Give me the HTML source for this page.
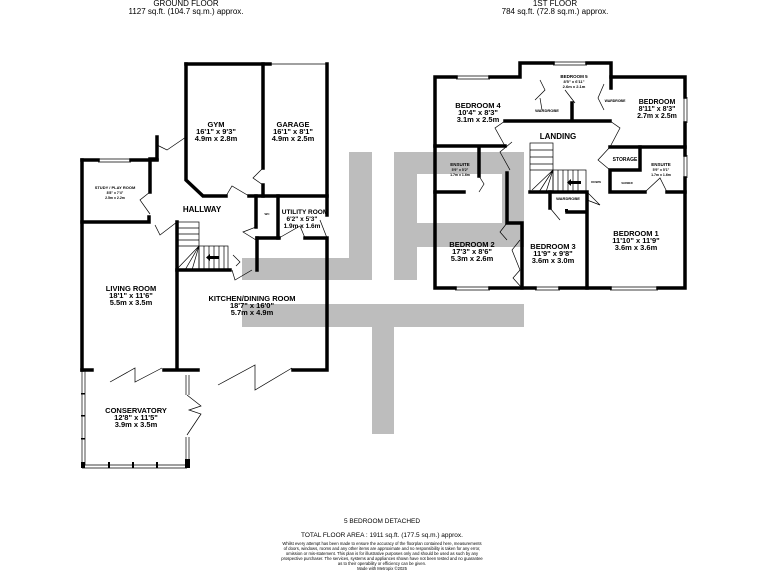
<!DOCTYPE html>
<html><head><meta charset="utf-8"><style>
html,body{margin:0;padding:0;background:#fff;}
svg{display:block;}
text{font-family:"Liberation Sans",sans-serif;fill:#000;text-anchor:middle;}
.b{font-weight:bold;}
</style></head><body>
<svg width="768" height="576" viewBox="0 0 768 576" xmlns="http://www.w3.org/2000/svg">
<!-- watermark -->
<g fill="#bdbdbd">
<rect x="349" y="152" width="23" height="128"/>
<rect x="242" y="258" width="130" height="22"/>
<rect x="394" y="152" width="23" height="128"/>
<rect x="394" y="152" width="130" height="22"/>
<rect x="502" y="152" width="22" height="95"/>
<rect x="394" y="223" width="130" height="24"/>
<rect x="242" y="304" width="282" height="23"/>
<rect x="372" y="304" width="22" height="130"/>
</g>

<!-- headers -->
<text x="186" y="6" font-size="8">GROUND FLOOR</text>
<text x="186" y="14" font-size="8">1127 sq.ft. (104.7 sq.m.) approx.</text>
<text x="555" y="6" font-size="8">1ST FLOOR</text>
<text x="555" y="14" font-size="8">784 sq.ft. (72.8 sq.m.) approx.</text>

<!-- GROUND FLOOR walls -->
<g stroke="#000" stroke-width="3.5" fill="none" stroke-linecap="square">
<path d="M186 64 H270"/>
<path d="M327 64 V215"/>
<path d="M186 64 V180 L203 196 H226"/>
<path d="M249 196 H327"/>
<path d="M263 64 V168 M263 185 V196"/>
<path d="M157 137 V159 H150 V192"/>
<path d="M149 217 V222 H82"/>
<path d="M82 160 H98 M131 160 H157"/>
<path d="M82 160 V370"/>
<path d="M177 222 V368"/>
<path d="M82 370 H92 M164 370 H184 M187 370 H198"/>
<path d="M177 270 H230"/>
<path d="M257 238 V270"/>
<path d="M257 238 H279 M305 238 H327 V370 H293"/>
<path d="M256 196 V227 M278 196 V238"/>
</g>
<g stroke="#000" stroke-width="0.7" fill="none">
<path d="M270 64 H326"/>
<path d="M98 159 H131 M98 162 H131"/>
<!-- stairs -->
<rect x="178" y="222" width="21" height="48"/>
<path d="M178 228 H199 M178 234 H199 M178 240 H199 M178 246 H199"/>
<rect x="199" y="246" width="29" height="24"/>
<path d="M204 246 V270 M209 246 V270 M214 246 V270 M219 246 V270 M224 246 V270"/>
<path d="M199 246 L178 268 M199 246 L185 270 M199 246 L192 270"/>
<!-- doors -->
<path d="M157 145 L167 150 L186 137"/>
<path d="M150 192 L140 200 L150 214"/>
<path d="M155 225 L160 235 L177 222"/>
<path d="M226 196 L232 186 L249 196"/>
<path d="M263 168 L253 178 L263 185"/>
<path d="M256 227 L243 232 L256 240"/>
<path d="M279 238 L300 226 L305 238"/>
<path d="M320 220 L327 238"/>
<path d="M232 270 L235 280 L252 270"/>
<path d="M233 255 L240 262 L236 266"/>
<!-- bifold doors -->
<path d="M110 382 L135 368 V382 L162 368"/>
<path d="M218 385 L255 365 V390 L292 368"/>
<path d="M187 395 L201 406 L189 410 L201 414 L187 435"/>
<!-- conservatory windows -->
<path d="M82 370 V465 M85 370 V465 M82 465 H187 M82 468 H187 M186 375 V395 M189 375 V395 M186 437 V466 M189 437 V466"/>
</g>
<g fill="#000">
<rect x="209" y="256" width="10" height="3"/>
<polygon points="206,257.5 210,254 210,261"/>
<rect x="81" y="393" width="4" height="1.5"/>
<rect x="81" y="415" width="4" height="1.5"/>
<rect x="81" y="438" width="4" height="1.5"/>
<rect x="81" y="462" width="4" height="6"/>
<rect x="108" y="462" width="2" height="6"/>
<rect x="132" y="462" width="2" height="6"/>
<rect x="156" y="462" width="2" height="6"/>
<rect x="185" y="459" width="5" height="9"/>
</g>

<!-- GROUND labels -->
<g class="b">
<text x="216" y="127" font-size="7.5">GYM</text>
<text x="216" y="134" font-size="7.5">16'1" x 9'3"</text>
<text x="216" y="141" font-size="7.5">4.9m x 2.8m</text>
<text x="293" y="127" font-size="7.5">GARAGE</text>
<text x="293" y="134" font-size="7.5">16'1" x 8'1"</text>
<text x="293" y="141" font-size="7.5">4.9m x 2.5m</text>
<text x="115" y="189" font-size="4">STUDY / PLAY ROOM</text>
<text x="115" y="194" font-size="3.5">8'8" x 7'4"</text>
<text x="115" y="199" font-size="3.5">2.5m x 2.2m</text>
<text x="202" y="212" font-size="8">HALLWAY</text>
<text x="305" y="214" font-size="6.5">UTILITY ROOM</text>
<text x="302" y="221" font-size="6.5">6'2" x 5'3"</text>
<text x="302" y="228" font-size="6.5">1.9m x 1.6m</text>
<text x="267" y="215" font-size="3">WC</text>
<text x="131" y="291" font-size="7.5">LIVING ROOM</text>
<text x="131" y="298" font-size="7.5">18'1" x 11'6"</text>
<text x="131" y="305" font-size="7.5">5.5m x 3.5m</text>
<text x="252" y="301" font-size="7.5">KITCHEN/DINING ROOM</text>
<text x="252" y="308" font-size="7.5">18'7" x 16'0"</text>
<text x="252" y="315" font-size="7.5">5.7m x 4.9m</text>
<text x="136" y="413" font-size="7.5">CONSERVATORY</text>
<text x="136" y="420" font-size="7.5">12'8" x 11'5"</text>
<text x="136" y="427" font-size="7.5">3.9m x 3.5m</text>
</g>

<!-- FIRST FLOOR walls -->
<g stroke="#000" stroke-width="3.5" fill="none" stroke-linecap="square">
<path d="M456 77 H435 V288 H455 M490 288 H535 M560 288 H610 M658 288 H685 V178 M685 155 V123 M685 97 V77 H611 V63 H587 M553 63 H520 V77 H490"/>
<path d="M505 121 H610 M572 103 V121 M611 77 V88"/>
<path d="M435 146 H505"/>
<path d="M610 147 H685"/>
<path d="M479 147 V176 M435 192 H464"/>
<path d="M507 173 V223 H522 V288"/>
<path d="M530 192 H587 V288"/>
<path d="M611 192 H645 M667 192 H685 M640 147 V170 H610 V192"/>
<path d="M550 192 V208 M567 212 H584"/>
</g>
<g stroke="#000" stroke-width="0.7" fill="none">
<path d="M456 76 H490 M456 79 H490 M553 62 H587 M553 65 H587"/>
<path d="M684 97 V123 M687 97 V123 M684 155 V178 M687 155 V178"/>
<path d="M455 287 H490 M455 290 H490 M535 287 H560 M535 290 H560 M610 287 H658 M610 290 H658"/>
<!-- stairs -->
<rect x="530" y="143" width="23" height="49"/>
<path d="M530 150 H553 M530 157 H553 M530 164 H553 M530 170 H553"/>
<rect x="553" y="170" width="33" height="22"/>
<path d="M558 170 V192 M563 170 V192 M568 170 V192 M573 170 V192 M578 170 V192"/>
<path d="M553 170 L532 190 M553 170 L539 192 M553 170 L546 192"/>
<!-- doors -->
<path d="M505 121 L495 128 L505 146 M512 142 L500 152 L510 170"/>
<path d="M610 121 L620 128 L610 147"/>
<path d="M610 147 L598 160 L610 170"/>
<path d="M479 176 L484 184 L479 192"/>
<path d="M507 223 L500 232 L507 240 M520 240 L512 250 L520 270 L513 278 L522 288"/>
<path d="M587 192 L600 205 L587 200 M550 208 L560 220"/>
<path d="M645 192 L660 178 L667 192"/>
<path d="M540 80 L545 90 L535 100 M540 98 L542 110 M565 90 L575 103 M604 84 L598 98 L604 110"/>
</g>
<g fill="#000">
<rect x="571" y="181" width="10" height="3"/>
<polygon points="567,182.5 571,179 571,186"/>
<rect x="565" y="209" width="3" height="3"/>
</g>

<!-- FIRST labels -->
<g class="b">
<text x="478" y="108" font-size="7.5">BEDROOM 4</text>
<text x="478" y="115" font-size="7.5">10'4" x 8'3"</text>
<text x="478" y="122" font-size="7.5">3.1m x 2.5m</text>
<text x="574" y="78" font-size="4.5">BEDROOM 5</text>
<text x="574" y="83" font-size="4">8'5" x 6'11"</text>
<text x="574" y="88" font-size="4">2.6m x 2.1m</text>
<text x="547" y="112" font-size="4">WARDROBE</text>
<text x="615" y="102" font-size="3.5">WARDROBE</text>
<text x="657" y="104" font-size="7">BEDROOM</text>
<text x="657" y="111" font-size="7">8'11" x 8'3"</text>
<text x="657" y="118" font-size="7">2.7m x 2.5m</text>
<text x="558" y="139" font-size="8">LANDING</text>
<text x="460" y="166" font-size="4.5">ENSUITE</text>
<text x="460" y="171" font-size="3.5">5'9" x 5'2"</text>
<text x="460" y="176" font-size="3.5">1.7m x 1.6m</text>
<text x="625" y="161" font-size="5">STORAGE</text>
<text x="661" y="166" font-size="4.5">ENSUITE</text>
<text x="661" y="171" font-size="3.5">5'9" x 5'1"</text>
<text x="661" y="176" font-size="3.5">1.7m x 1.6m</text>
<text x="627" y="184" font-size="2.5">SHOWER</text>
<text x="596" y="183" font-size="3">DOWN</text>
<text x="568" y="200" font-size="4">WARDROBE</text>
<text x="472" y="247" font-size="7.5">BEDROOM 2</text>
<text x="472" y="254" font-size="7.5">17'3" x 8'6"</text>
<text x="472" y="261" font-size="7.5">5.3m x 2.6m</text>
<text x="553" y="249" font-size="7.5">BEDROOM 3</text>
<text x="553" y="256" font-size="7.5">11'9" x 9'8"</text>
<text x="553" y="263" font-size="7.5">3.6m x 3.0m</text>
<text x="636" y="236" font-size="7.5">BEDROOM 1</text>
<text x="636" y="243" font-size="7.5">11'10" x 11'9"</text>
<text x="636" y="250" font-size="7.5">3.6m x 3.6m</text>
</g>

<!-- footer -->
<text x="382" y="523" font-size="6.5">5 BEDROOM DETACHED</text>
<text x="382" y="537" font-size="6.5">TOTAL FLOOR AREA : 1911 sq.ft. (177.5 sq.m.) approx.</text>
<g font-size="4.2">
<text x="382" y="545">Whilst every attempt has been made to ensure the accuracy of the floorplan contained here, measurements</text>
<text x="382" y="550">of doors, windows, rooms and any other items are approximate and no responsibility is taken for any error,</text>
<text x="382" y="555">omission or mis-statement. This plan is for illustrative purposes only and should be used as such by any</text>
<text x="382" y="560">prospective purchaser. The services, systems and appliances shown have not been tested and no guarantee</text>
<text x="382" y="565">as to their operability or efficiency can be given.</text>
<text x="382" y="570">Made with Metropix ©2025</text>
</g>
</svg>
</body></html>
